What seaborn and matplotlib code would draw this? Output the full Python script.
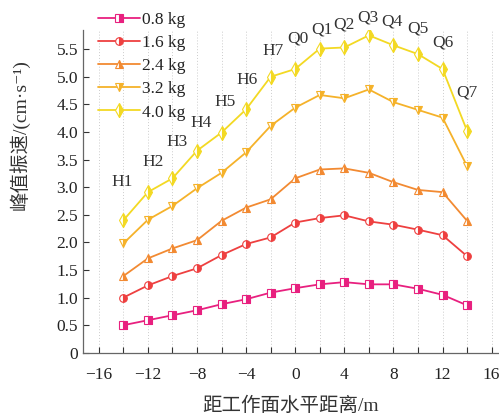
#!/usr/bin/env python3
# coding: utf-8
import pandas as pd
import seaborn as sns
import matplotlib.pyplot as plt
from matplotlib.ticker import MultipleLocator, FuncFormatter

# ------------------------------------------------
# Data
# ------------------------------------------------
distance = [-14, -12, -10, -8, -6, -4, -2, 0, 2, 4, 6, 8, 10, 12, 14]
point_names = ["H1", "H2", "H3", "H4", "H5", "H6", "H7", "Q0",
               "Q1", "Q2", "Q3", "Q4", "Q5", "Q6", "Q7"]

v_08 = [0.50, 0.59, 0.68, 0.77, 0.88, 0.97, 1.09, 1.17, 1.24, 1.28, 1.24, 1.24, 1.16, 1.05, 0.86]
v_16 = [1.00, 1.22, 1.39, 1.53, 1.77, 1.97, 2.09, 2.36, 2.44, 2.49, 2.38, 2.32, 2.23, 2.13, 1.75]
v_24 = [1.39, 1.71, 1.89, 2.04, 2.39, 2.63, 2.78, 3.16, 3.32, 3.34, 3.26, 3.09, 2.95, 2.91, 2.39]
v_32 = [1.98, 2.41, 2.66, 2.98, 3.26, 3.63, 4.11, 4.44, 4.67, 4.61, 4.77, 4.54, 4.40, 4.26, 3.38]
v_40 = [2.40, 2.91, 3.16, 3.66, 3.99, 4.41, 5.00, 5.14, 5.51, 5.53, 5.75, 5.57, 5.41, 5.14, 4.02]

series_names = ["0.8 kg", "1.6 kg", "2.4 kg", "3.2 kg", "4.0 kg"]
series_values = [v_08, v_16, v_24, v_32, v_40]

# ------------------------------------------------
# Style
# ------------------------------------------------
colors = ["#e8207f", "#ee4040", "#f28a32", "#f5b22a", "#f3d923"]
markers = ["s", "o", "^", "v", "d"]
# label positions (data coords) for the point names above the top curve
label_xy = [(-14.1, 3.09), (-11.6, 3.45), (-9.6, 3.81), (-7.7, 4.16), (-5.7, 4.54),
            (-3.9, 4.95), (-1.8, 5.46), (0.2, 5.70), (2.2, 5.86), (4.0, 5.95),
            (5.9, 6.08), (7.9, 6.0), (10.0, 5.88), (12.0, 5.62), (14.0, 4.72)]

sns.set_theme(style="ticks", context="paper")
fonts = ["Liberation Serif", "Noto Sans CJK SC", "DejaVu Sans"]
plt.rcParams["font.family"] = fonts
plt.rcParams["axes.unicode_minus"] = True

fig = plt.figure(figsize=(4.99, 4.20), dpi=100)
ax = fig.add_axes([0.166, 0.16, 0.834, 0.769])

for name, vals, c, m in zip(series_names, series_values, colors, markers):
    df = pd.DataFrame({"x": distance, "y": vals})
    ms = 7 if m == "d" else 5.5
    sns.lineplot(data=df, x="x", y="y", ax=ax, color=c, marker=m, markersize=ms,
                 linewidth=1.3, fillstyle="right", markerfacecoloralt="white",
                 markeredgecolor=c, markeredgewidth=0.8, label=name)

for t, (lx, ly) in zip(point_names, label_xy):
    ax.text(lx, ly, t, ha="center", va="center", fontsize=12.5, color="#333333")

# ------------------------------------------------
# Axes
# ------------------------------------------------
ax.set_xlim(-17.3, 16.6)
ax.set_ylim(0, 5.85)
ax.xaxis.set_major_locator(MultipleLocator(4))
ax.xaxis.set_minor_locator(MultipleLocator(2))
ax.yaxis.set_major_locator(MultipleLocator(0.5))
ax.yaxis.set_major_formatter(FuncFormatter(lambda v, p: "0" if abs(v) < 1e-9 else "%.1f" % v))
ax.tick_params(axis="both", which="both", direction="in", length=4, width=0.8,
               labelsize=12.5, colors="#333333", labelcolor="#222222")
ax.tick_params(axis="x", pad=10)
ax.grid(axis="x", which="both", linestyle=(0, (1, 2)), color="#cccccc", linewidth=0.7)
sns.despine(ax=ax)
for s in ["left", "bottom"]:
    ax.spines[s].set_color("#666666")
    ax.spines[s].set_linewidth(0.9)

ax.set_xlabel("距工作面水平距离/m", fontsize=14, color="#333333", labelpad=10)
ax.set_ylabel("峰值振速/(cm·s⁻¹)", fontsize=14, color="#333333")
ax.yaxis.set_label_coords(-0.128, 0.675)

leg = ax.legend(loc="upper left", bbox_to_anchor=(98 / 499, 1 - 12 / 420),
                bbox_transform=fig.transFigure, frameon=False, fontsize=12.5,
                handlelength=2.4, handletextpad=0.15, labelspacing=0.4,
                borderpad=0, borderaxespad=0)
for txt in leg.get_texts():
    txt.set_color("#222222")

plt.savefig("out.png", dpi=100)
plt.close(fig)
